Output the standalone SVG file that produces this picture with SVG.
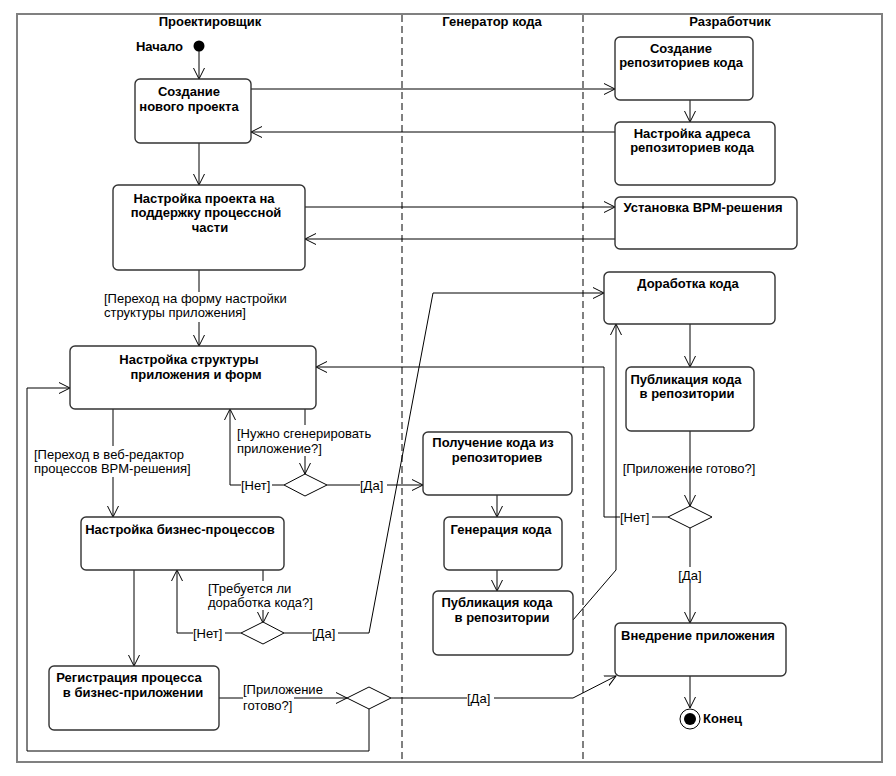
<svg xmlns="http://www.w3.org/2000/svg" width="896" height="776" viewBox="0 0 896 776">
<style>
.box{fill:#fff;stroke:#333;stroke-width:1.4}
.dia{fill:#fff;stroke:#000;stroke-width:1}
.t{font-family:"Liberation Sans",Arial,sans-serif;font-size:13px;font-weight:bold;fill:#000;text-anchor:middle}
.lbl{font-family:"Liberation Sans",Arial,sans-serif;font-size:13px;fill:#000}
.c{fill:none;stroke:#000;stroke-width:1}
.ca{fill:none;stroke:#000;stroke-width:1;marker-end:url(#arr)}
</style>
<defs>
<marker id="arr" markerUnits="userSpaceOnUse" markerWidth="14" markerHeight="14" refX="11" refY="6" orient="auto" viewBox="0 0 14 12">
<path d="M0,0.5 L11,6 L0,11.5" fill="none" stroke="#000" stroke-width="1"/>
</marker>
</defs>
<rect width="896" height="776" fill="#fff"/>
<g id="frame">
<rect x="17" y="14" width="865" height="748" fill="none" stroke="#808080" stroke-width="2"/>
<line x1="402" y1="15" x2="402" y2="761" stroke="#000" stroke-width="1" stroke-dasharray="7,4"/>
<line x1="583" y1="15" x2="583" y2="761" stroke="#808080" stroke-width="2" stroke-dasharray="7,4"/>
<text class="t" x="210" y="26">Проектировщик</text>
<text class="t" x="492" y="26">Генератор кода</text>
<text class="t" x="730" y="26">Разработчик</text>
</g>
<g id="connectors">
<path class="ca" d="M199,51 V79"/>
<path class="ca" d="M251,89 H615"/>
<path class="ca" d="M615,132 H251"/>
<path class="ca" d="M690,100 V122"/>
<path class="ca" d="M199,143 V185"/>
<path class="ca" d="M305,207 H615"/>
<path class="ca" d="M615,239 H305"/>
<path class="c" d="M199,270 V292"/>
<path class="ca" d="M199,322 V346"/>
<text class="lbl" x="104" y="303">[Переход на форму настройки</text>
<text class="lbl" x="104" y="317">структуры приложения]</text>
<path class="c" d="M113,409 V446"/>
<path class="ca" d="M113,477 V517"/>
<text class="lbl" x="34" y="459">[Переход в веб-редактор</text>
<text class="lbl" x="34" y="473">процессов BPM-решения]</text>
<path class="c" d="M305,409 V425"/>
<path class="ca" d="M305,456 V474"/>
<text class="lbl" x="237" y="438">[Нужно сгенерировать</text>
<text class="lbl" x="237" y="453">приложение?]</text>
<path class="c" d="M284,485 H272"/>
<path class="ca" d="M241,485 H230 V409"/>
<text class="lbl" x="241" y="490">[Нет]</text>
<path class="c" d="M327,485 H360"/>
<path class="ca" d="M387,485 H423"/>
<text class="lbl" x="360" y="490">[Да]</text>
<path class="ca" d="M497,495 V517"/>
<path class="ca" d="M497,570 V591"/>
<path class="ca" d="M573,620 L616,570 V324"/>
<path class="ca" d="M690,324 V367"/>
<path class="ca" d="M690,431 V506"/>
<text class="lbl" x="689" y="473" text-anchor="middle">[Приложение готово?]</text>
<path class="c" d="M668,517 H652"/>
<path class="ca" d="M620,517 H604 V367 H316"/>
<text class="lbl" x="620" y="522">[Нет]</text>
<path class="c" d="M690,528 V567"/>
<path class="ca" d="M690,583 V623"/>
<text class="lbl" x="690" y="580" text-anchor="middle">[Да]</text>
<path class="ca" d="M690,676 V708"/>
<path class="ca" d="M134,570 V666"/>
<path class="c" d="M263,570 V581"/>
<path class="ca" d="M263,610 V623"/>
<text class="lbl" x="208" y="593">[Требуется ли</text>
<text class="lbl" x="208" y="607">доработка кода?]</text>
<path class="c" d="M241,633 H225"/>
<path class="ca" d="M193,633 H177 V570"/>
<text class="lbl" x="193" y="638">[Нет]</text>
<path class="c" d="M284,633 H312"/>
<path class="ca" d="M338,633 H369 L433,293 H604"/>
<text class="lbl" x="312" y="638">[Да]</text>
<path class="c" d="M219,698 H243"/>
<path class="ca" d="M294,698 H347"/>
<text class="lbl" x="243" y="694">[Приложение</text>
<text class="lbl" x="243" y="710">готово?]</text>
<path class="c" d="M391,698 H467"/>
<path class="ca" d="M494,698 H573 L616,676"/>
<text class="lbl" x="467" y="703">[Да]</text>
<path class="ca" d="M369,709 V751 H27 V388 H70"/>
</g>
<g id="start">
<circle cx="199" cy="46" r="5.5" fill="#000"/>
<text class="t" x="183" y="51" style="text-anchor:end">Начало</text>
</g>
<g id="end">
<circle cx="690" cy="719" r="10" fill="#fff" stroke="#000" stroke-width="1"/>
<circle cx="690" cy="719" r="6" fill="#000"/>
<text class="t" x="703" y="723" style="text-anchor:start">Конец</text>
</g>
<g id="n_create_project">
<rect class="box" x="135" y="79" width="116" height="64" rx="5"/>
<text class="t" x="189" y="96">Создание</text>
<text class="t" x="189" y="111">нового проекта</text>
</g>
<g id="n_create_repo">
<rect class="box" x="615" y="37" width="138" height="63" rx="5"/>
<text class="t" x="681" y="53">Создание</text>
<text class="t" x="681" y="67">репозиториев кода</text>
</g>
<g id="n_repo_addr">
<rect class="box" x="615" y="122" width="160" height="63" rx="5"/>
<text class="t" x="692" y="138">Настройка адреса</text>
<text class="t" x="692" y="152">репозиториев кода</text>
</g>
<g id="n_bpm_install">
<rect class="box" x="615" y="197" width="182" height="52" rx="5"/>
<text class="t" x="703" y="212">Установка BPM-решения</text>
</g>
<g id="n_project_process">
<rect class="box" x="113" y="185" width="192" height="85" rx="5"/>
<text class="t" x="204" y="203">Настройка проекта на</text>
<text class="t" x="206" y="217">поддержку процессной</text>
<text class="t" x="210" y="232">части</text>
</g>
<g id="n_code_rework">
<rect class="box" x="604" y="272" width="171" height="52" rx="5"/>
<text class="t" x="688" y="288">Доработка кода</text>
</g>
<g id="n_publish_dev">
<rect class="box" x="626" y="367" width="128" height="64" rx="5"/>
<text class="t" x="686" y="384">Публикация кода</text>
<text class="t" x="687" y="398">в репозитории</text>
</g>
<g id="n_structure">
<rect class="box" x="70" y="346" width="246" height="63" rx="5"/>
<text class="t" x="189" y="364">Настройка структуры</text>
<text class="t" x="196" y="379">приложения и форм</text>
</g>
<g id="d1"><path class="dia" d="M284,485 L305,474 L327,485 L305,496 Z"/></g>
<g id="n_get_code">
<rect class="box" x="423" y="432" width="149" height="63" rx="5"/>
<text class="t" x="493" y="447">Получение кода из</text>
<text class="t" x="497" y="462">репозиториев</text>
</g>
<g id="n_generate">
<rect class="box" x="444" y="517" width="118" height="53" rx="5"/>
<text class="t" x="501" y="534">Генерация кода</text>
</g>
<g id="n_publish_gen">
<rect class="box" x="433" y="591" width="140" height="64" rx="5"/>
<text class="t" x="497" y="607">Публикация кода</text>
<text class="t" x="502" y="622">в репозитории</text>
</g>
<g id="d2"><path class="dia" d="M668,517 L690,506 L712,517 L690,528 Z"/></g>
<g id="n_deploy">
<rect class="box" x="615" y="623" width="171" height="53" rx="5"/>
<text class="t" x="698" y="640">Внедрение приложения</text>
</g>
<g id="n_bp">
<rect class="box" x="81" y="517" width="203" height="53" rx="5"/>
<text class="t" x="180" y="534">Настройка бизнес-процессов</text>
</g>
<g id="d3"><path class="dia" d="M241,633 L263,622 L284,633 L263,644 Z"/></g>
<g id="n_register">
<rect class="box" x="49" y="666" width="170" height="64" rx="5"/>
<text class="t" x="129" y="682">Регистрация процесса</text>
<text class="t" x="133" y="697">в бизнес-приложении</text>
</g>
<g id="d4"><path class="dia" d="M347,698 L369,687 L391,698 L369,709 Z"/></g>
</svg>
